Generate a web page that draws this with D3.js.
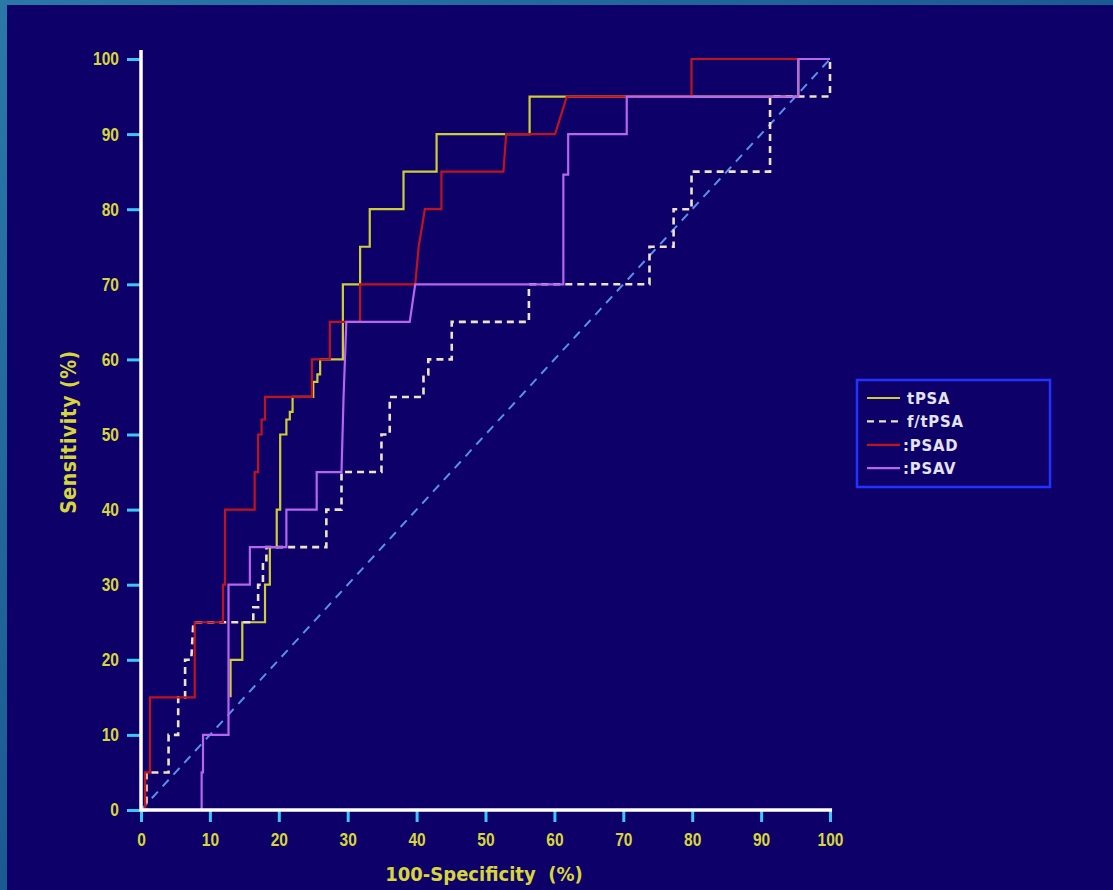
<!DOCTYPE html>
<html>
<head>
<meta charset="utf-8">
<script src="https://cdn.jsdelivr.net/npm/d3@7"></script>
<style>
    body{ margin:0; background:#0e0069; }
    svg{ display:block; }
    .axis .tick text{
        font-family:"Liberation Sans","Arial",sans-serif;
        font-weight:bold;
        font-size:18.5px;
        fill:#d6d63a;
    }
    .axis .tick line{ stroke:#3fc6f2; stroke-width:3; }
    .axis .domain{ display:none; }
    .label{
        font-family:"DejaVu Sans Condensed","Liberation Sans Narrow",sans-serif;
        font-weight:bold;
        font-size:20px;
        fill:#d6d63a;
        white-space:pre;
    }
    .label-y{ font-size:21px; letter-spacing:0.5px; }
    .legend text{
        font-family:"DejaVu Sans Condensed","Liberation Sans Narrow",sans-serif;
        font-weight:bold;
        font-size:16.5px;
        fill:#e4e4f0;
        letter-spacing:0.8px;
    }
</style>
</head>
<body>
<svg id="chart" width="1113" height="890"></svg>
<script>
// ---- data (x = 100-specificity %, y = sensitivity %) ----
const axisTicks = [0, 10, 20, 30, 40, 50, 60, 70, 80, 90, 100];
const seriesNames = ['tPSA', 'f/tPSA', ':PSAD', ':PSAV'];

const tpsaX = [13, 13, 14.7, 14.7, 18, 18, 18.7, 18.7, 19.7, 19.7, 20.2, 20.2, 21.1, 21.1, 21.6, 21.6, 22, 22, 25, 25, 25.6, 25.6, 26, 26, 29.3, 29.3, 31.8, 31.8, 33.2, 33.2, 38.1, 38.1, 42.9, 42.9, 56.4, 56.4, 61.5, 95.4, 95.4, 100];
const tpsaY = [15, 20, 20, 25, 25, 30, 30, 35, 35, 40, 40, 50, 50, 52, 52, 53, 53, 55, 55, 57, 57, 58, 58, 60, 60, 70, 70, 75, 75, 80, 80, 85, 85, 90, 90, 95, 95, 95, 100, 100];

const ftpsaX = [0, 0.8, 0.8, 4, 4, 5.4, 5.4, 6.4, 6.4, 7.3, 7.6, 16.3, 16.3, 17, 17, 17.7, 17.7, 18.2, 18.2, 26.9, 26.9, 29.1, 29.1, 34.9, 34.9, 36.1, 36.1, 41, 41, 41.7, 41.7, 45.1, 45.1, 56.3, 56.3, 73.8, 73.8, 77.3, 77.3, 79.9, 79.9, 91.3, 91.3, 100, 100];
const ftpsaY = [0, 0, 5, 5, 10, 10, 15, 15, 20, 20, 25, 25, 27, 27, 30, 30, 33, 33, 35, 35, 40, 40, 45, 45, 50, 50, 55, 55, 58, 58, 60, 60, 65, 65, 70, 70, 75, 75, 80, 80, 85, 85, 95, 95, 100];

const psadX = [0, 0.6, 0.6, 1.3, 1.3, 7.8, 7.8, 11.9, 11.9, 12.2, 12.2, 16.5, 16.5, 17, 17, 17.5, 17.5, 18, 18, 24.8, 24.8, 27.4, 27.4, 31.8, 31.8, 39.8, 40.3, 41.2, 43.6, 43.6, 52.6, 53, 60.1, 61.8, 79.9, 79.9, 100];
const psadY = [0, 0, 5, 5, 15, 15, 25, 25, 30, 30, 40, 40, 45, 45, 50, 50, 52, 52, 55, 55, 60, 60, 65, 65, 70, 70, 75, 80, 80, 85, 85, 90, 90, 95, 95, 100, 100];

const psavX = [0, 8.8, 8.8, 9, 9, 12.7, 12.7, 15.8, 15.8, 21.1, 21.1, 25.5, 25.5, 29.1, 29.4, 29.8, 39, 39.8, 61.3, 61.3, 62, 62, 70.5, 70.5, 95.4, 95.4, 100];
const psavY = [0, 0, 5, 5, 10, 10, 30, 30, 35, 35, 40, 40, 45, 45, 55, 65, 65, 70, 70, 84.6, 84.6, 90, 90, 95, 95, 100, 100];

const chanceX = [0, 100];
const chanceY = [0, 100];

class rocChart{
    constructor(){
        this.colors = ['#cdcd38', '#ece4c4', '#c0141c', '#b565ee'];
        this.dashes = [null, '7,5', null, null];
        this.squeeze = 0.84; //tick digits in the picture are narrow
    }

    setSelection(selection){
        this.selection = selection;
        return this;
    }

    setSeries(series){
        this.series = series;
        return this;
    }

    setPlotBox(box){
        this.box = box;
        this.scaleX = d3.scaleLinear().domain([0, 100]).range([box.l, box.r]);
        this.scaleY = d3.scaleLinear().domain([0, 100]).range([box.b, box.t]);
        return this;
    }

    draw(){
        this.drawBackground();
        this.drawChance();
        this.drawCurves();
        this.drawAxes();
        this.drawLabels();
        this.drawLegend();
    }

    drawBackground(){
        let defs = this.selection.append('defs');
        let grad = defs.append('linearGradient').attr('id', 'frame')
            .attr('x1', 0).attr('y1', 0).attr('x2', 1).attr('y2', 1);
        grad.append('stop').attr('offset', 0).attr('stop-color', '#2a78a8');
        grad.append('stop').attr('offset', 0.5).attr('stop-color', '#1a5a92');
        grad.append('stop').attr('offset', 1).attr('stop-color', '#12508a');

        this.selection.append('rect')
            .attr('width', 1113).attr('height', 890)
            .attr('fill', 'url(#frame)');
        this.selection.append('rect')
            .attr('x', 7).attr('y', 5)
            .attr('width', 1106).attr('height', 885)
            .attr('fill', '#0e0069');
    }

    drawChance(){
        let line = d3.line()
            .x((d, i) => this.scaleX(chanceX[i]))
            .y((d, i) => this.scaleY(d));

        this.selection.append('path')
            .attr('d', line(chanceY))
            .attr('fill', 'none')
            .attr('stroke', '#5b8fe6')
            .attr('stroke-width', 2)
            .attr('stroke-dasharray', '9,7');
    }

    drawCurves(){
        let line = d3.line()
            .x(d => this.scaleX(d[0]))
            .y(d => this.scaleY(d[1]));

        this.selection.selectAll('path.roc')
            .data(this.series)
            .join('path')
            .attr('class', 'roc')
            .attr('d', s => line(d3.zip(s.x, s.y)))
            .attr('fill', 'none')
            .attr('stroke', (s, i) => this.colors[i])
            .attr('stroke-width', (s, i) => i == 1 ? 2.6 : 2.2)
            .attr('stroke-dasharray', (s, i) => this.dashes[i]);
    }

    drawAxes(){
        let axisX = d3.axisBottom(this.scaleX)
            .tickValues(axisTicks)
            .tickSizeInner(12)
            .tickSizeOuter(0)
            .tickPadding(11);

        let axisY = d3.axisLeft(this.scaleY)
            .tickValues(axisTicks)
            .tickSizeInner(13)
            .tickSizeOuter(0)
            .tickPadding(8);

        let gx = this.selection.append('g')
            .attr('class', 'axis axis-x')
            .attr('transform', `translate(0, ${this.box.b})`)
            .call(axisX);

        let gy = this.selection.append('g')
            .attr('class', 'axis axis-y')
            .attr('transform', `translate(${this.box.l - 1}, 0)`)
            .call(axisY);

        //narrow the digits, keep the anchor where d3 put it
        gx.selectAll('.tick text')
            .attr('transform', `scale(${this.squeeze},1)`);
        gy.selectAll('.tick text')
            .attr('x', -21 / this.squeeze)
            .attr('transform', `scale(${this.squeeze},1)`);

        //white axis lines, the y one runs a bit past 100
        this.selection.append('line')
            .attr('x1', this.scaleX(0)).attr('x2', this.scaleX(100.3))
            .attr('y1', this.box.b).attr('y2', this.box.b)
            .attr('stroke', '#ffffff').attr('stroke-width', 3.5);

        this.selection.append('line')
            .attr('x1', this.box.l).attr('x2', this.box.l)
            .attr('y1', this.scaleY(0) + 1.5).attr('y2', this.scaleY(101.2))
            .attr('stroke', '#ffffff').attr('stroke-width', 3.5);
    }

    drawLabels(){
        this.selection.append('text')
            .attr('class', 'label label-x')
            .attr('x', 484)
            .attr('y', 881)
            .style('text-anchor', 'middle')
            .text('100-Specificity  (%)');

        this.selection.append('text')
            .attr('class', 'label label-y')
            .attr('transform', 'translate(76, 432) rotate(-90)')
            .style('text-anchor', 'middle')
            .text('Sensitivity (%)');
    }

    drawLegend(){
        let legend = this.selection.append('g').attr('class', 'legend');

        legend.append('rect')
            .attr('x', 857).attr('y', 380)
            .attr('width', 193).attr('height', 107)
            .attr('fill', 'none')
            .attr('stroke', '#2232ff')
            .attr('stroke-width', 2.5);

        let rows = legend.selectAll('g.row')
            .data(this.series)
            .join('g')
            .attr('class', 'row')
            .attr('transform', (s, i) => `translate(867, ${398 + i * 23.4})`);

        rows.append('line')
            .attr('x1', 0).attr('x2', 33)
            .attr('stroke', (s, i) => this.colors[i])
            .attr('stroke-width', 2.2)
            .attr('stroke-dasharray', (s, i) => this.dashes[i]);

        rows.append('text')
            .attr('x', (s, i) => i >= 2 ? 36 : 40)
            .attr('y', 6)
            .text(s => s.name);
    }
}

let series = [
    {name: seriesNames[0], x: tpsaX, y: tpsaY},
    {name: seriesNames[1], x: ftpsaX, y: ftpsaY},
    {name: seriesNames[2], x: psadX, y: psadY},
    {name: seriesNames[3], x: psavX, y: psavY}
];

new rocChart()
    .setSelection(d3.select('#chart'))
    .setSeries(series)
    .setPlotBox({l: 141, r: 830, t: 59, b: 810})
    .draw();
</script>
</body>
</html>
